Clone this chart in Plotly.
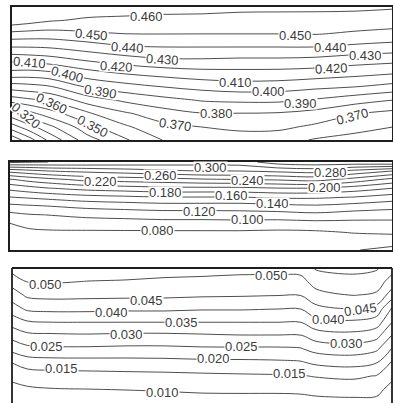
import plotly.graph_objects as go

# ---------------- grid coordinates (normalised panel length / height) ----------------
P1_X = [0, 0.05, 0.1, 0.2, 0.3, 0.4, 0.5, 0.6, 0.7, 0.8, 0.9, 1.0]
P1_Y = [0, 0.1, 0.2, 0.3, 0.4, 0.5, 0.6, 0.7, 0.8, 0.9, 1.0]
P2_X = P1_X
P2_Y = P1_Y
P3_X = [0, 0.04, 0.1, 0.2, 0.3, 0.4, 0.5, 0.6, 0.7, 0.76, 0.8, 0.9, 0.96, 1.0]
P3_Y = P1_Y

# ---------------- field values, rows from bottom (y=0) to top (y=1) ----------------
P1_Z = [
    [0.283, 0.297, 0.313, 0.336, 0.349, 0.3605, 0.362, 0.365, 0.364, 0.359, 0.357, 0.354],
    [0.3055, 0.3176, 0.328, 0.3469, 0.3588, 0.3674, 0.3702, 0.3724, 0.3724, 0.3681, 0.363, 0.3602],
    [0.327, 0.3377, 0.3458, 0.3587, 0.3689, 0.3757, 0.3797, 0.3798, 0.3793, 0.3766, 0.3706, 0.3672],
    [0.355, 0.3584, 0.3613, 0.3749, 0.3821, 0.3869, 0.3908, 0.3919, 0.3919, 0.3888, 0.3843, 0.3801],
    [0.3746, 0.3765, 0.379, 0.3912, 0.3962, 0.4002, 0.4032, 0.4052, 0.4047, 0.4022, 0.4002, 0.3966],
    [0.3964, 0.3956, 0.3975, 0.4056, 0.4106, 0.4135, 0.4159, 0.4165, 0.4163, 0.415, 0.4129, 0.4105],
    [0.412, 0.4135, 0.4153, 0.4209, 0.4253, 0.4285, 0.4288, 0.428, 0.428, 0.4271, 0.4244, 0.4228],
    [0.4302, 0.4304, 0.4312, 0.4351, 0.4391, 0.4401, 0.4401, 0.4401, 0.4401, 0.4401, 0.4379, 0.4361],
    [0.4473, 0.4463, 0.446, 0.4484, 0.4502, 0.4503, 0.4502, 0.4502, 0.4502, 0.4506, 0.4488, 0.4472],
    [0.467, 0.464, 0.461, 0.4584, 0.4581, 0.4576, 0.4572, 0.4569, 0.4566, 0.4564, 0.4556, 0.4549],
    [0.475, 0.472, 0.47, 0.466, 0.464, 0.463, 0.463, 0.462, 0.462, 0.462, 0.462, 0.461],
]

P2_Z = [
    [0.066, 0.066, 0.066, 0.067, 0.067, 0.067, 0.067, 0.067, 0.067, 0.066, 0.061, 0.055],
    [0.070, 0.071, 0.071, 0.071, 0.071, 0.071, 0.071, 0.071, 0.071, 0.070, 0.0703, 0.0676],
    [0.075, 0.076, 0.077, 0.077, 0.077, 0.077, 0.077, 0.077, 0.076, 0.077, 0.0809, 0.0833],
    [0.0795, 0.0852, 0.0877, 0.0898, 0.0907, 0.0923, 0.0923, 0.0928, 0.091, 0.0928, 0.0934, 0.0943],
    [0.0944, 0.0988, 0.1004, 0.1049, 0.1071, 0.1093, 0.1093, 0.1104, 0.1116, 0.1149, 0.1105, 0.1084],
    [0.115, 0.1178, 0.1202, 0.1257, 0.1286, 0.1314, 0.1314, 0.1314, 0.1343, 0.1375, 0.1325, 0.1275],
    [0.1394, 0.1427, 0.146, 0.1527, 0.156, 0.1593, 0.1593, 0.1593, 0.1632, 0.1632, 0.1593, 0.1509],
    [0.1653, 0.172, 0.1784, 0.1864, 0.1904, 0.1944, 0.1944, 0.1944, 0.1984, 0.1984, 0.1904, 0.1795],
    [0.1976, 0.207, 0.2136, 0.2256, 0.229, 0.232, 0.237, 0.2394, 0.242, 0.247, 0.232, 0.2136],
    [0.248, 0.2547, 0.2611, 0.266, 0.271, 0.2768, 0.281, 0.281, 0.2853, 0.2888, 0.276, 0.2611],
    [0.325, 0.322, 0.32, 0.318, 0.315, 0.312, 0.31, 0.311, 0.33, 0.335, 0.335, 0.34],
]

P3_Z = [
    [0.006, 0.007, 0.007, 0.007, 0.0075, 0.0075, 0.0078, 0.0078, 0.0078, 0.0077, 0.0082, 0.0085, 0.0088, 0.007],
    [0.0085, 0.0092, 0.0097, 0.0099, 0.0101, 0.0104, 0.0108, 0.0109, 0.0109, 0.0112, 0.0117, 0.0121, 0.0112, 0.0085],
    [0.0112, 0.0125, 0.0129, 0.0132, 0.0135, 0.0137, 0.014, 0.0143, 0.0145, 0.0147, 0.0153, 0.0159, 0.0147, 0.011],
    [0.0151, 0.0173, 0.0178, 0.018, 0.0181, 0.0183, 0.0187, 0.0188, 0.0191, 0.0195, 0.021, 0.0219, 0.0202, 0.0144],
    [0.0215, 0.0236, 0.0241, 0.0241, 0.0238, 0.0238, 0.0242, 0.0242, 0.0242, 0.0246, 0.0267, 0.0275, 0.0258, 0.0196],
    [0.0267, 0.0288, 0.0291, 0.0294, 0.029, 0.029, 0.0294, 0.0298, 0.0298, 0.0298, 0.0325, 0.0334, 0.0316, 0.0248],
    [0.0321, 0.0345, 0.0351, 0.0351, 0.0351, 0.0351, 0.0351, 0.0351, 0.0351, 0.0351, 0.0383, 0.0392, 0.0375, 0.0301],
    [0.0377, 0.041, 0.0415, 0.0415, 0.0411, 0.0411, 0.0406, 0.0406, 0.0402, 0.0402, 0.0437, 0.0452, 0.0434, 0.0343],
    [0.0425, 0.0459, 0.0465, 0.0463, 0.0462, 0.0461, 0.0457, 0.0455, 0.0452, 0.0452, 0.0483, 0.0502, 0.0492, 0.0425],
    [0.047, 0.0502, 0.0505, 0.0499, 0.0496, 0.0492, 0.0488, 0.0485, 0.0485, 0.0483, 0.0521, 0.0532, 0.0525, 0.0478],
    [0.052, 0.053, 0.053, 0.053, 0.053, 0.052, 0.052, 0.0515, 0.0515, 0.052, 0.0555, 0.0565, 0.0555, 0.052],
]

# contour levels: (start, end, step)
P1_LEVELS = (0.28, 0.46, 0.01)
P2_LEVELS = (0.06, 0.32, 0.02)
P3_LEVELS = (0.010, 0.055, 0.005)

# labelled contour values
P1_LABEL_VALUES = [0.460, 0.450, 0.440, 0.430, 0.420, 0.410, 0.400, 0.390, 0.360, 0.320, 0.350,
                   0.370, 0.450, 0.440, 0.430, 0.420, 0.410, 0.400, 0.390, 0.380, 0.370]
P2_LABEL_VALUES = [0.300, 0.280, 0.260, 0.240, 0.220, 0.200, 0.180, 0.160, 0.140, 0.120, 0.100, 0.080]
P3_LABEL_VALUES = [0.050, 0.045, 0.040, 0.035, 0.030, 0.025, 0.015, 0.010,
                   0.050, 0.045, 0.040, 0.030, 0.025, 0.020, 0.015]

# label placement (x, y, rotation) in panel coordinates
P1_LABEL_POS = [(0.355, 0.932, 0), (0.208, 0.797, 5), (0.305, 0.699, 3), (0.397, 0.602, 3),
                (0.276, 0.556, 3), (0.047, 0.579, 5), (0.147, 0.496, 15), (0.232, 0.361, 10),
                (0.105, 0.271, 25), (0.037, 0.188, 40), (0.213, 0.098, 28), (0.429, 0.120, 8),
                (0.745, 0.789, 0), (0.838, 0.699, 0), (0.930, 0.639, 0), (0.840, 0.541, -3),
                (0.587, 0.429, 0), (0.674, 0.361, 0), (0.760, 0.278, 0), (0.539, 0.203, 0),
                (0.895, 0.180, -15)]
P2_LABEL_POS = [(0.526, 0.943, 0), (0.838, 0.886, 0), (0.395, 0.852, 0), (0.623, 0.795, 0),
                (0.236, 0.773, 0), (0.822, 0.705, 0), (0.406, 0.659, 0), (0.581, 0.614, 0),
                (0.688, 0.534, 0), (0.495, 0.443, 0), (0.623, 0.341, 0), (0.387, 0.227, 0)]
P3_LABEL_POS = [(0.087, 0.881, 0), (0.355, 0.763, 0), (0.263, 0.674, 0), (0.447, 0.600, 0),
                (0.300, 0.511, 0), (0.092, 0.415, 0), (0.129, 0.252, 0), (0.395, 0.081, 0),
                (0.682, 0.941, 0), (0.918, 0.696, -8), (0.832, 0.615, 0), (0.879, 0.444, 0),
                (0.603, 0.415, 0), (0.529, 0.326, 0), (0.729, 0.215, 0)]

LINE_COLOR = "#3a3a3a"
FRAME_COLOR = "#1e1e1e"
FONT = "Liberation Sans, Arial, sans-serif"

fig = go.Figure()

panels = [
    ("x", "y", P1_X, P1_Y, P1_Z, P1_LEVELS, P1_LABEL_VALUES, P1_LABEL_POS),
    ("x2", "y2", P2_X, P2_Y, P2_Z, P2_LEVELS, P2_LABEL_VALUES, P2_LABEL_POS),
    ("x3", "y3", P3_X, P3_Y, P3_Z, P3_LEVELS, P3_LABEL_VALUES, P3_LABEL_POS),
]

annotations = []
for xa, ya, xs, ys, zs, (lo, hi, step), vals, pos in panels:
    fig.add_trace(go.Contour(
        x=xs, y=ys, z=zs,
        xaxis=xa, yaxis=ya,
        autocontour=False,
        contours=dict(start=lo, end=hi + step * 0.01, size=step,
                      coloring="none", showlabels=False),
        line=dict(color=LINE_COLOR, width=0.9, smoothing=1.0),
        showscale=False, hoverinfo="skip",
    ))
    for v, (lx, ly, ang) in zip(vals, pos):
        annotations.append(dict(
            x=lx, y=ly, xref=xa, yref=ya,
            text=f"{v:.3f}", showarrow=False, textangle=ang,
            font=dict(family=FONT, size=13, color="#3c3c3c"),
            bgcolor="white", borderpad=0, height=11,
        ))

axis_common = dict(range=[0, 1], showgrid=False, zeroline=False,
                   showticklabels=False, ticks="", fixedrange=True)
framed = dict(showline=True, mirror=True, linecolor=FRAME_COLOR, linewidth=1.8)

W, H = 393, 403
fig.update_layout(
    width=W, height=H,
    margin=dict(l=0, r=0, t=0, b=0),
    paper_bgcolor="white", plot_bgcolor="white",
    showlegend=False,
    xaxis=dict(domain=[12 / W, 392 / W], anchor="y", **axis_common, **framed),
    yaxis=dict(domain=[1 - 140 / H, 1 - 7 / H], anchor="x", **axis_common, **framed),
    xaxis2=dict(domain=[10 / W, 392 / W], anchor="y2", **axis_common, **framed),
    yaxis2=dict(domain=[1 - 250 / H, 1 - 162 / H], anchor="x2", **axis_common, **framed),
    xaxis3=dict(domain=[12 / W, 392 / W], anchor="y3", **axis_common, showline=False),
    yaxis3=dict(domain=[0, 1 - 268 / H], anchor="x3", **axis_common, showline=False),
    annotations=annotations,
)

# open-bottom frame of the lowest panel
for x0, y0, x1, y1 in [(0, 0, 0, 1), (0, 1, 1, 1), (1, 1, 1, 0)]:
    fig.add_shape(type="line", xref="x3 domain", yref="y3 domain",
                  x0=x0, y0=y0, x1=x1, y1=y1,
                  line=dict(color=FRAME_COLOR, width=1.8))

fig.write_html("out.html")
